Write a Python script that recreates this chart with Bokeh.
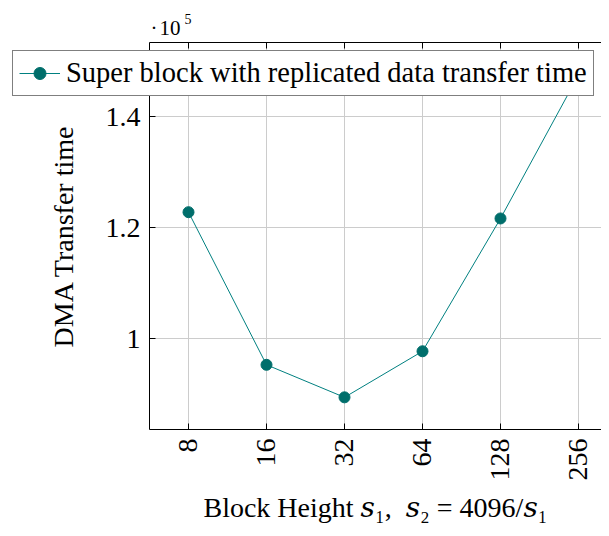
from bokeh.plotting import figure
from bokeh.models import (FixedTicker, LinearAxis, Range1d, Label, Legend, LegendItem,
                          ColumnDataSource)
from bokeh.embed import file_html
from bokeh.resources import INLINE

# ---- data ----
block_heights = ["8", "16", "32", "64", "128", "256"]
transfer_time = [122760, 95260, 89400, 97700, 121630, 147460]
y_ticks = [100000, 120000, 140000]
y_tick_labels = ["1", "1.2", "1.4"]
series_name = "Super block with replicated data transfer time"

FONT = "Liberation Serif"
TEAL_LINE = "#008080"
TEAL_MARK = "#006e6b"
GRID = "#cccccc"

# plot-area limits (data units)
X0, X1 = -0.5, 5.5
Y0, Y1 = 83604, 153333

W, H = 601, 528
xs = list(range(len(block_heights)))
src = ColumnDataSource(dict(x=xs, y=transfer_time))

# frame covers the whole canvas so the legend may overhang the plot area
p = figure(width=W, height=H, output_backend="svg", toolbar_location=None,
           x_range=Range1d(-2.41026, 5.29487), y_range=Range1d(65766, 160901),
           min_border=0)
p.outline_line_color = None
p.background_fill_color = "white"
p.border_fill_color = "white"
p.grid.visible = False

# grid lines inside plot area
gv = ColumnDataSource(dict(x0=xs, y0=[Y0] * len(xs), x1=xs, y1=[Y1] * len(xs)))
gh = ColumnDataSource(dict(x0=[X0] * len(y_ticks), y0=y_ticks,
                           x1=[X1] * len(y_ticks), y1=y_ticks))
p.segment("x0", "y0", "x1", "y1", source=gv, line_color=GRID, line_width=1, level="underlay")
p.segment("x0", "y0", "x1", "y1", source=gh, line_color=GRID, line_width=1, level="underlay")

# axes
for ax in (p.xaxis[0], p.yaxis[0]):
    ax.axis_line_color = "black"
    ax.axis_line_width = 1
    ax.major_tick_in = 6
    ax.major_tick_out = 0
    ax.major_tick_line_color = "black"
    ax.minor_tick_line_color = None
    ax.major_label_text_font = FONT
    ax.major_label_text_font_size = "28px"
    ax.major_label_text_color = "black"
    ax.axis_label_text_font = FONT + ", DejaVu Serif"
    ax.axis_label_text_font_size = "28px"
    ax.axis_label_text_font_style = "normal"
    ax.axis_label_text_color = "black"

xa = p.xaxis[0]
xa.fixed_location = Y0
xa.bounds = (X0, X1)
xa.ticker = FixedTicker(ticks=xs)
xa.major_label_overrides = {i: s for i, s in enumerate(block_heights)}
xa.major_label_orientation = 3.14159265 / 2
xa.major_label_standoff = 9
xa.axis_label = "Block Height 𝑠₁,\u2002𝑠₂ = 4096/𝑠₁"
xa.axis_label_standoff = 8

ya = p.yaxis[0]
ya.fixed_location = X0
ya.bounds = (Y0, Y1)
ya.ticker = FixedTicker(ticks=y_ticks)
ya.major_label_overrides = {t: s for t, s in zip(y_ticks, y_tick_labels)}
ya.major_label_standoff = 9
ya.axis_label = "DMA Transfer time"
ya.axis_label_standoff = 24

top = LinearAxis(ticker=FixedTicker(ticks=xs), major_tick_in=6, major_tick_out=0,
                 minor_tick_line_color=None, major_label_text_font_size="0px",
                 axis_line_color="black", fixed_location=Y1, bounds=(X0, X1))
p.add_layout(top, "above")

ln = p.line("x", "y", source=src, line_color=TEAL_LINE, line_width=1)
mk = p.scatter("x", "y", source=src, size=11, marker="circle",
               fill_color=TEAL_MARK, line_color=TEAL_MARK)

legend = Legend(items=[LegendItem(label=series_name, renderers=[ln, mk])],
                location=(12, H - 96), orientation="vertical",
                label_text_font=FONT, label_text_font_size="28.5px",
                label_text_color="black", border_line_color="black",
                border_line_width=1, padding=6, margin=0, spacing=0,
                glyph_width=41, glyph_height=30, label_standoff=6,
                background_fill_alpha=1.0)
p.add_layout(legend, "center")

# scale factor label "·10^5"
p.add_layout(Label(x=-0.4872, y=156036, text="·", text_font=FONT,
                   text_font_size="21px", text_color="black",
                   text_baseline="middle"))
p.add_layout(Label(x=-0.3718, y=156036, text="10", text_font=FONT,
                   text_font_size="21px", text_color="black",
                   text_baseline="middle"))
p.add_layout(Label(x=-0.0513, y=157657, text="5", text_font=FONT,
                   text_font_size="14px", text_color="black",
                   text_baseline="middle"))

open("out.html", "w").write(file_html(p, INLINE))
